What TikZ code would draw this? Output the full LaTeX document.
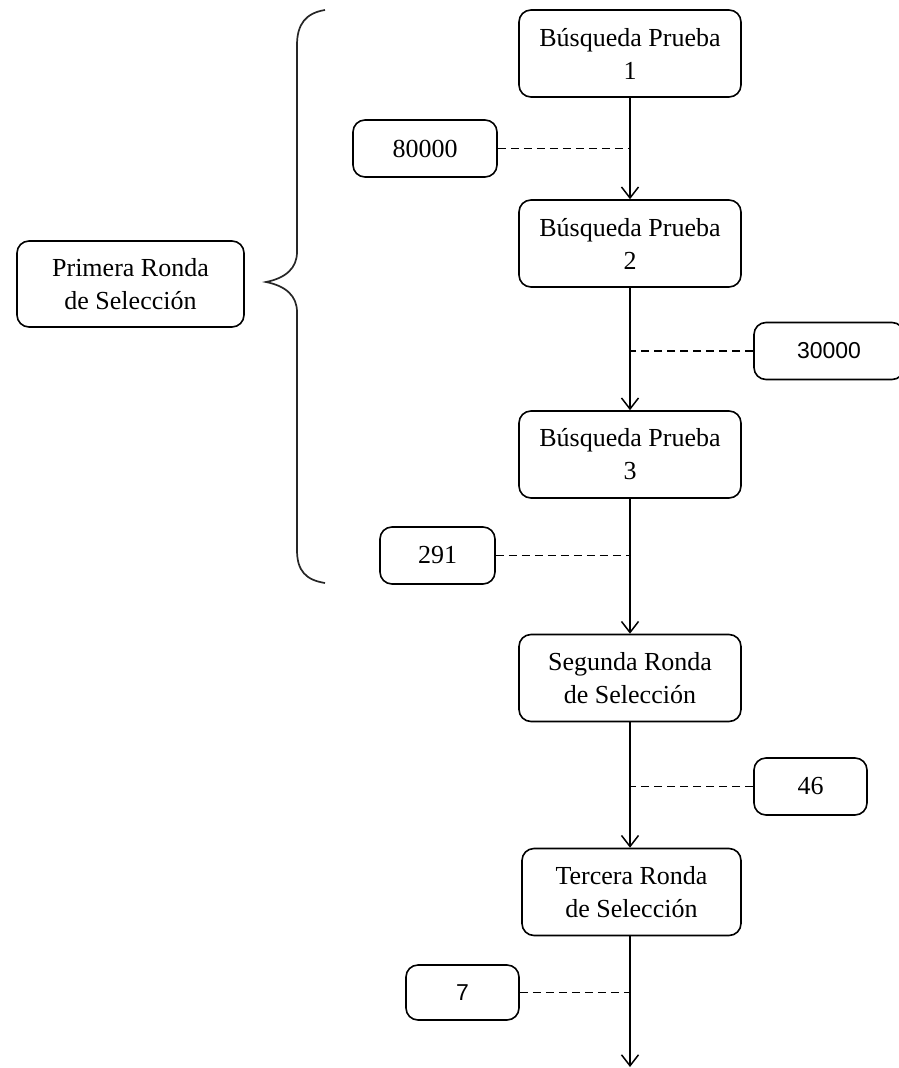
\documentclass[tikz,border=0pt]{standalone}
\usepackage{fontspec}
\setmainfont{Liberation Serif}
\newfontfamily\sansf{Liberation Sans}
\usetikzlibrary{arrows.meta}
\begin{document}
\begin{tikzpicture}[x=1pt,y=-1pt,
  box/.style={draw, line width=1.6pt, rounded corners=12pt, align=center, inner sep=0pt,
    font=\fontsize{26}{33}\selectfont},
  bigbox/.style={box, minimum width=222pt, minimum height=87pt},
  numbox/.style={box, minimum height=57pt},
  flow/.style={line width=1.5pt, -{Straight Barb[length=11pt,width=17pt,line width=1.5pt]}},
  link/.style={line width=1.5pt, dash pattern=on 8pt off 5pt}]
\useasboundingbox (0,0) rectangle (898,1068);
% main column
\node[bigbox] (b1) at (630,53.5) {Búsqueda Prueba\\1};
\node[bigbox] (b2) at (630,243.5) {Búsqueda Prueba\\2};
\node[bigbox] (b3) at (630,454.5) {Búsqueda Prueba\\3};
\node[bigbox] (b4) at (630,678) {Segunda Ronda\\de Selección};
\node[bigbox, minimum width=219pt] (b5) at (631.5,892) {Tercera Ronda\\de Selección};
\node[box, minimum width=227pt, minimum height=86pt] (p1) at (130.5,284) {Primera Ronda\\de Selección};
% count boxes
\node[numbox, minimum width=144pt] (n1) at (425,148.5) {80000};
\node[numbox, minimum width=150pt, font=\sansf\fontsize{23}{28}\selectfont] (n2) at (829,351) {30000};
\node[numbox, minimum width=115pt] (n3) at (437.5,555.5) {291};
\node[numbox, minimum width=113pt] (n4) at (810.5,786.5) {46};
\node[numbox, minimum width=113pt, minimum height=55pt, font=\sansf\fontsize{23}{28}\selectfont] (n5) at (462.5,992.5) {7};
% trunk points
\coordinate (t1) at (630,148.5);
\coordinate (t2) at (630,351);
\coordinate (t3) at (630,555.5);
\coordinate (t4) at (630,786.5);
\coordinate (t5) at (630,992.5);
\coordinate (end) at (630,1067);
% arrows
\draw[flow] (b1.south) -- (b2.north);
\draw[flow] (b2.south) -- (b3.north);
\draw[flow] (b3.south) -- (b4.north);
\draw[flow] (b4.south) -- (b4.south |- b5.north);
\draw[flow] (b5.south -| end) -- (end);
% dashed links
\draw[link] (n1.east) -- (t1);
\draw[link] (n2.west) -- (t2);
\draw[link] (n3.east) -- (t3);
\draw[link] (n4.west) -- (t4);
\draw[link] (n5.east) -- (t5);
% brace
\draw[line width=1.7pt, color=black!85] (325,10) .. controls (306,13) and (297,24) .. (297,45)
  -- (297,252) .. controls (297,268) and (286,278) .. (266,282)
  .. controls (286,286) and (297,296) .. (297,312)
  -- (297,550) .. controls (297,571) and (306,580) .. (325,583);
\end{tikzpicture}
\end{document}
